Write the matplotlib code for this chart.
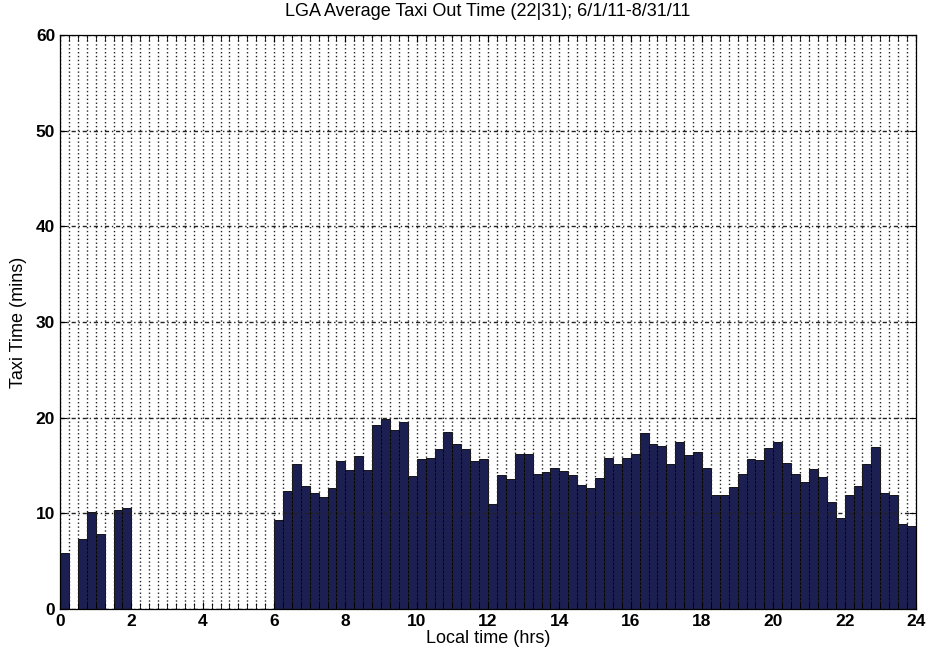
import matplotlib
matplotlib.use("Agg")
import matplotlib.pyplot as plt
import numpy as np
from matplotlib.ticker import MultipleLocator

plt.rcParams["font.family"] = ["Liberation Sans", "DejaVu Sans"]

# 15-minute bins, left edge in local hours
bin_width = 0.25
bin_start = np.arange(96) * bin_width

# average taxi-out time per bin (mins)
taxi_mins = [
    5.8, 0.0, 7.3, 10.1, 7.8, 0.0, 10.3, 10.6,            # 0-2
    0, 0, 0, 0, 0, 0, 0, 0,                                 # 2-4
    0, 0, 0, 0, 0, 0, 0, 0,                                 # 4-6
    9.35, 12.3, 15.2, 12.85, 12.1, 11.7, 12.6, 15.5,        # 6-8
    14.5, 16.0, 14.5, 19.2, 19.9, 18.7, 19.5, 13.9,         # 8-10
    15.7, 15.8, 16.75, 18.5, 17.2, 16.75, 15.5, 15.7,       # 10-12
    11.0, 14.0, 13.6, 16.2, 16.2, 14.1, 14.35, 14.7,        # 12-14
    14.4, 14.0, 13.0, 12.6, 13.65, 15.75, 15.2, 15.75,      # 14-16
    16.2, 18.4, 17.2, 17.0, 15.15, 17.45, 16.05, 16.4,      # 16-18
    14.75, 11.95, 11.95, 12.7, 14.15, 15.7, 15.6, 16.85,    # 18-20
    17.45, 15.3, 14.1, 13.3, 14.6, 13.75, 11.2, 9.55,       # 20-22
    11.9, 12.9, 15.2, 16.9, 12.1, 11.9, 8.9, 8.7,           # 22-24
]

fig = plt.figure(figsize=(9.29, 6.58), dpi=100)
ax = fig.add_axes([0.0646, 0.0745, 0.9214, 0.8723])

ax.bar(bin_start, taxi_mins, width=bin_width, align="edge",
       color="#1c1f52", edgecolor="black", linewidth=0.6, zorder=2)

ax.set_xlim(0, 24)
ax.set_ylim(0, 60)
ax.xaxis.set_major_locator(MultipleLocator(2))
ax.xaxis.set_minor_locator(MultipleLocator(0.25))
ax.yaxis.set_major_locator(MultipleLocator(10))

# matlab-style dotted grid over every quarter hour
ax.grid(True, which="both", axis="x", linestyle=(0, (1, 1.8)),
        color="#222222", linewidth=1.0, zorder=3)
ax.grid(True, which="major", axis="y", linestyle=(0, (3, 2, 1, 2)),
        color="#222222", linewidth=1.0, zorder=3)
ax.set_axisbelow(False)

ax.tick_params(which="both", direction="in", top=True, right=True)
ax.tick_params(which="major", length=5, labelsize=12.5)
ax.tick_params(which="minor", length=4)
for lab in ax.get_xticklabels() + ax.get_yticklabels():
    lab.set_fontweight("bold")

for s in ax.spines.values():
    s.set_linewidth(0.9)
    s.set_zorder(4)

ax.set_xlabel("Local time (hrs)", fontsize=13, labelpad=1)
ax.set_ylabel("Taxi Time (mins)", fontsize=13, labelpad=6)
ax.set_title("LGA Average Taxi Out Time (22|31); 6/1/11-8/31/11",
             fontsize=13, pad=14)

fig.savefig("out.png", dpi=100)
